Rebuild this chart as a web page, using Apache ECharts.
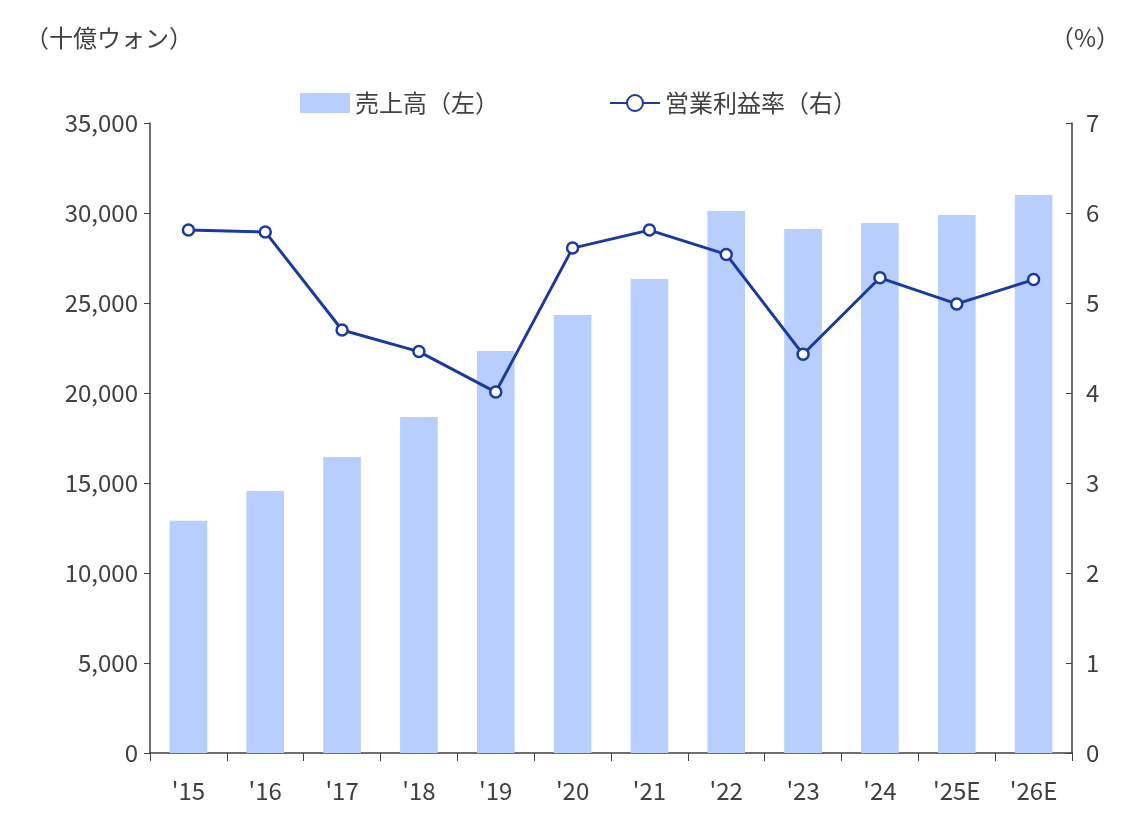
<!DOCTYPE html>
<html><head><meta charset="utf-8">
<script src="https://cdn.jsdelivr.net/npm/echarts@6/dist/echarts.min.js"></script>
<style>html,body{margin:0;background:#fff}#c{width:1140px;height:820px}</style>
</head><body><div id="c"></div>
<script>
const categories = ["'15","'16","'17","'18","'19","'20","'21","'22","'23","'24","'25E","'26E"];
const sales = [12900,14560,16440,18670,22330,24330,26330,30110,29110,29440,29890,31000];
const margin = [5.81,5.79,4.70,4.46,4.01,5.61,5.81,5.54,4.43,5.28,4.99,5.26];
const F = "'Noto Sans CJK JP','Noto Sans',sans-serif";
const txt = {color:'#404040', fontSize:24, fontFamily:F};
const chart = echarts.init(document.getElementById('c'));
chart.setOption({
  animation:false,
  textStyle:{fontFamily:F},
  grid:{left:150,right:68,top:123,bottom:67},
  legend:{top:86,left:295,itemGap:110,itemWidth:50,itemHeight:20,textStyle:txt,
    data:[{name:'売上高（左）',icon:'rect'},{name:'営業利益率（右）'}]},
  graphic:[
    {type:'text',left:25,top:26,style:{text:'（十億ウォン）',fill:'#404040',font:'24px '+F}},
    {type:'text',right:20,top:26,style:{text:'（%）',fill:'#404040',font:'24px '+F}}
  ],
  xAxis:{type:'category',data:categories,
    axisLine:{lineStyle:{color:'#404040',width:1.5}},
    axisTick:{show:true,length:8,lineStyle:{color:'#404040'}},
    axisLabel:Object.assign({margin:26},txt)},
  yAxis:[
    {type:'value',min:0,max:35000,interval:5000,
     axisLine:{show:true,lineStyle:{color:'#404040',width:1.5}},
     axisTick:{show:true,length:6,lineStyle:{color:'#404040'}},
     splitLine:{show:false},
     axisLabel:Object.assign({margin:12,formatter:v=>v.toLocaleString('en-US')},txt)},
    {type:'value',min:0,max:7,interval:1,
     axisLine:{show:true,lineStyle:{color:'#404040',width:1.5}},
     axisTick:{show:true,length:6,inside:true,lineStyle:{color:'#404040'}},
     splitLine:{show:false},
     axisLabel:Object.assign({margin:14},txt)}
  ],
  series:[
    {name:'売上高（左）',type:'bar',data:sales,barWidth:'49%',itemStyle:{color:'#b8cefc'}},
    {name:'営業利益率（右）',type:'line',yAxisIndex:1,data:margin,
     symbol:'circle',symbolSize:11,
     lineStyle:{color:'#1a3aa0',width:3},
     itemStyle:{color:'#fff',borderColor:'#1a3aa0',borderWidth:2.5}}
  ]
});
</script></body></html>
